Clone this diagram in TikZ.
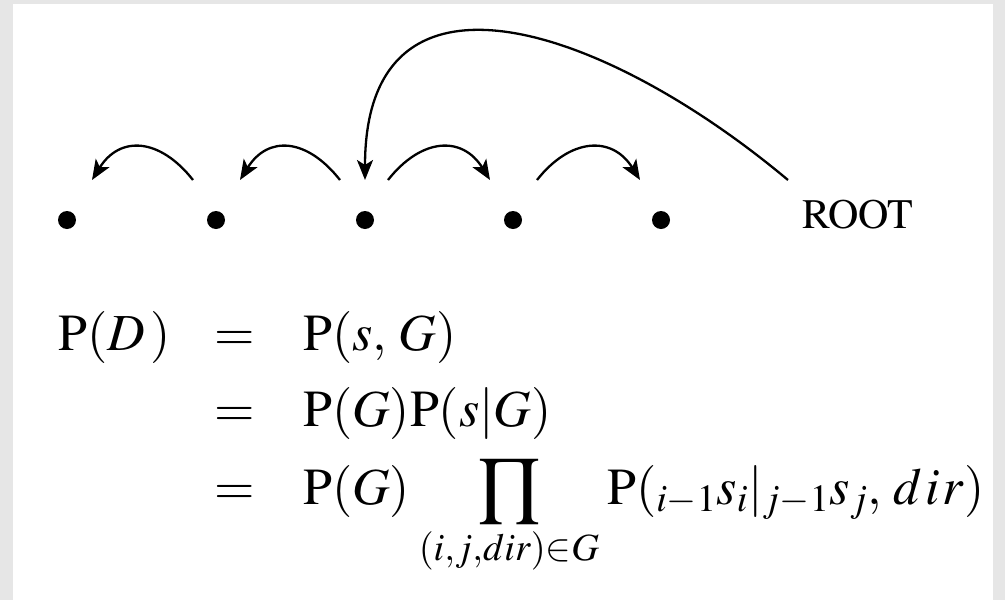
\documentclass[tikz,border=0pt]{standalone}
\usepackage{mathptmx}
\usetikzlibrary{arrows.meta,calc}
\definecolor{bggray}{HTML}{E6E6E6}
\begin{document}
\begin{tikzpicture}[x=1pt,y=-1pt,
  dot/.style={circle,fill=black,inner sep=0pt,minimum size=18pt},
  link/.style={line width=2.3pt,-{Stealth[length=20pt,width=16pt,inset=5pt]}},
  eqtxt/.style={inner sep=0pt,font=\fontsize{52}{60}\selectfont},
  ]
\fill[bggray] (0,0) rectangle (1005,600);
\fill[white] (13,4) rectangle (993,600);
\useasboundingbox (0,0) rectangle (1005,600);

% tokens
\node[dot] (d1) at (67,220) {};
\node[dot] (d2) at (216,220) {};
\node[dot] (d3) at (365,220) {};
\node[dot] (d4) at (513,220) {};
\node[dot] (d5) at (661,220) {};
\node[inner sep=0pt,anchor=base west,font=\fontencoding{OT1}\fontfamily{ptm}\fontsize{42}{50}\selectfont] (root) at (802,228) {ROOT};

% arc end points
\coordinate (a1s) at ($(d2)+(-23,-40)$);
\coordinate (a1e) at ($(d1)+(25,-40)$);
\coordinate (a2s) at ($(d3)+(-25,-40)$);
\coordinate (a2e) at ($(d2)+(24,-40)$);
\coordinate (a3s) at ($(d3)+(23,-40)$);
\coordinate (a3e) at ($(d4)+(-23,-40)$);
\coordinate (a4s) at ($(d4)+(24,-40)$);
\coordinate (a4e) at ($(d5)+(-21,-40)$);
\coordinate (rs) at ($(root.base west)+(-14,-48)$);
\coordinate (re) at ($(d3)+(0,-40)$);

\draw[link] (a1s) .. controls +(-33,-42) and +(28,-45) .. (a1e);
\draw[link] (a2s) .. controls +(-33,-42) and +(28,-45) .. (a2e);
\draw[link] (a3s) .. controls +(33,-42) and +(-28,-45) .. (a3e);
\draw[link] (a4s) .. controls +(33,-42) and +(-28,-45) .. (a4e);
\draw[link] (rs) .. controls +(-185,-155) and +(0,-235) .. (re);

% equations
\node[eqtxt,anchor=base west] (lhs) at (58,350) {$\mathrm{P}(D\,)$};
\node[eqtxt,anchor=base] (eq1) at (234.5,350) {$=$};
\node[eqtxt,anchor=base] (eq2) at (234.5,426) {$=$};
\node[eqtxt,anchor=base] (eq3) at (234.5,504) {$=$};
\node[eqtxt,anchor=base west] (r1) at (303,350) {$\mathrm{P}(s,\,G)$};
\node[eqtxt,anchor=base west] (r2) at (303,426) {$\mathrm{P}(G)\mathrm{P}(s|G)$};
\node[eqtxt,anchor=base west] (r3a) at (303,504) {$\mathrm{P}(G)$};
\node[eqtxt,anchor=base] (prod) at (509,504) {$\displaystyle\prod_{(i,j,dir)\in G}$};
\node[eqtxt,anchor=base west] (r3b) at (607,504) {$\mathrm{P}({}_{i-1}s_i|{}_{j-1}s_j,\,d\mkern1mu i\mkern1mu r)$};
\end{tikzpicture}
\end{document}
